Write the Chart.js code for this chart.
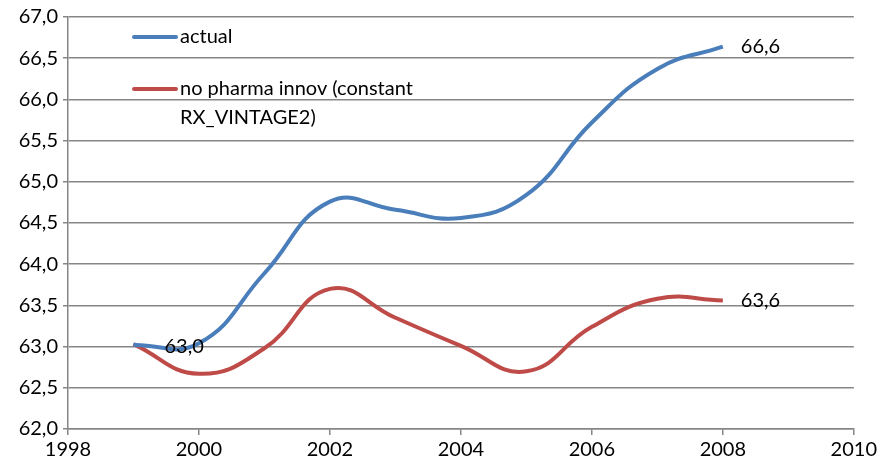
<!DOCTYPE html>
<html>
<head>
<meta charset="utf-8">
<script src="https://cdn.jsdelivr.net/npm/chart.js@4/dist/chart.umd.min.js"></script>
<style>
  html, body { margin: 0; padding: 0; background: #fff; }
  #wrap { width: 880px; height: 466px; }
</style>
</head>
<body>
<div id="wrap"><canvas id="myChart"></canvas></div>
<script>
var years = [1999, 2000, 2001, 2002, 2003, 2004, 2005, 2006, 2007, 2008];
var actual = [63.02, 63.04, 63.89, 64.76, 64.66, 64.56, 64.84, 65.72, 66.37, 66.64];
var noInnov = [63.03, 62.67, 62.98, 63.70, 63.35, 63.01, 62.70, 63.24, 63.58, 63.56];
var xTicks = [1998, 2000, 2002, 2004, 2006, 2008, 2010];
var seriesNames = ['actual', 'no pharma innov (constant\nRX_VINTAGE2)'];

var FONT = 'Lato, "Open Sans", sans-serif';
var blue = '#4a7ebb';
var red = '#be4b48';

function pts(vals) {
    return years.map(function (y, i) { return { x: y, y: vals[i] }; });
}
function fmt(v) {
    return v.toFixed(1).replace('.', ',');
}

// legend inside the plot and value labels at the ends of the lines
var extras = {
    id: 'extras',
    afterDatasetsDraw: function (chart) {
        var c = chart.ctx;
        var xs = chart.scales.x, ys = chart.scales.y;
        c.save();
        c.font = '20px ' + FONT;
        c.fillStyle = '#000';
        c.textBaseline = 'middle';
        c.lineCap = 'round';
        c.lineWidth = 4;

        // legend
        var lx = 134, rows = [37, 89];
        [blue, red].forEach(function (col, i) {
            c.strokeStyle = col;
            c.beginPath();
            c.moveTo(lx, rows[i]);
            c.lineTo(lx + 42, rows[i]);
            c.stroke();
            seriesNames[i].split('\n').forEach(function (line, j) {
                c.fillText(line, lx + 46, rows[i] + j * 29);
            });
        });

        // data labels
        var first = 0, last = years.length - 1;
        c.fillText(fmt(actual[first]), xs.getPixelForValue(years[first]) + 31, ys.getPixelForValue(actual[first]) + 2);
        c.fillText(fmt(actual[last]), xs.getPixelForValue(years[last]) + 18, ys.getPixelForValue(actual[last]));
        c.fillText(fmt(noInnov[last]), xs.getPixelForValue(years[last]) + 18, ys.getPixelForValue(noInnov[last]));
        c.restore();
    }
};

var ctx = document.getElementById('myChart').getContext('2d');
var myChart = new Chart(ctx, {
    type: 'line',
    data: {
        datasets: [{
            label: 'actual',
            data: pts(actual),
            borderColor: blue,
            borderWidth: 4,
            pointRadius: 0,
            tension: 0.45,
            fill: false
        }, {
            label: 'no pharma innov (constant RX_VINTAGE2)',
            data: pts(noInnov),
            borderColor: red,
            borderWidth: 4,
            pointRadius: 0,
            tension: 0.45,
            fill: false
        }]
    },
    plugins: [extras],
    options: {
        responsive: true,
        maintainAspectRatio: false,
        animation: false,
        layout: { padding: { top: 8, right: 2, left: 0, bottom: 1 } },
        plugins: {
            legend: { display: false },
            tooltip: { enabled: false }
        },
        scales: {
            x: {
                type: 'linear',
                min: 1998,
                max: 2010,
                afterBuildTicks: function (scale) {
                    scale.ticks = xTicks.map(function (v) { return { value: v }; });
                },
                ticks: {
                    color: '#000',
                    font: { family: FONT, size: 20 },
                    padding: 3,
                    maxRotation: 0,
                    callback: function (v) { return String(v); }
                },
                grid: {
                    drawOnChartArea: false,
                    drawTicks: true,
                    tickLength: 6,
                    color: '#868686',
                    lineWidth: 1.5
                },
                border: { color: '#868686', width: 1.5 }
            },
            y: {
                min: 62,
                max: 67,
                afterFit: function (scale) { scale.width = 68; },
                ticks: {
                    stepSize: 0.5,
                    color: '#000',
                    font: { family: FONT, size: 20 },
                    padding: 5,
                    callback: function (v) { return fmt(v); }
                },
                grid: {
                    color: '#868686',
                    lineWidth: 1.5,
                    tickLength: 5
                },
                border: { color: '#868686', width: 1.5 }
            }
        }
    }
});
</script>
</body>
</html>
